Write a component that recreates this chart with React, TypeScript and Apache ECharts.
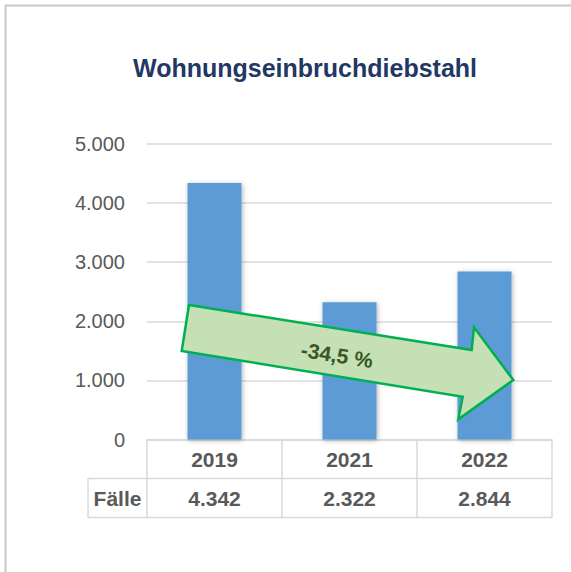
import React, { useEffect, useRef } from "react";
import * as echarts from "echarts";

const title = "Wohnungseinbruchdiebstahl";
const categories = ["2019", "2021", "2022"];
const cases = [4342, 2322, 2844];
const rowLabel = "Fälle";
const changeLabel = "-34,5 %";
const yMin = 0;
const yMax = 5000;
const yInterval = 1000;

const fmt = (v: number) => String(Math.round(v)).replace(/\B(?=(\d{3})+(?!\d))/g, ".");

const GL = 147, GR = 552, GT = 144, GB = 439.5;
const ROW = 39;
const W = 571, H = 572;

export default function App() {
  const ref = useRef<HTMLDivElement>(null);
  useEffect(() => {
    if (!ref.current) return;
    const chart = echarts.init(ref.current, undefined, { renderer: "svg" });
    const font = "'Liberation Sans', Arial, sans-serif";
    const tableLine = { stroke: "#D9D9D9", lineWidth: 1.5 };
    chart.setOption({
      animation: false,
      backgroundColor: "#ffffff",
      textStyle: { fontFamily: font },
      grid: { left: GL, right: W - GR, top: GT, bottom: H - GB },
      xAxis: [
        {
          type: "category",
          data: categories,
          position: "bottom",
          axisLine: { show: true, lineStyle: { color: "#D9D9D9", width: 1.5 } },
          axisTick: { show: true, length: ROW * 2, lineStyle: { color: "#D9D9D9", width: 1.5 } },
          axisLabel: {
            margin: 20,
            verticalAlign: "middle",
            fontSize: 21,
            fontWeight: "bold",
            color: "#595959",
            fontFamily: font,
          },
        },
        {
          type: "category",
          data: cases.map(fmt),
          position: "bottom",
          offset: ROW,
          axisLine: { show: false },
          axisTick: { show: false },
          axisLabel: {
            margin: 20,
            verticalAlign: "middle",
            fontSize: 21,
            fontWeight: "bold",
            color: "#595959",
            fontFamily: font,
          },
        },
      ],
      yAxis: {
        type: "value",
        min: yMin,
        max: yMax,
        interval: yInterval,
        axisLine: { show: false },
        axisTick: { show: false },
        splitLine: { lineStyle: { color: "#D9D9D9", width: 1.5 } },
        axisLabel: {
          margin: 22,
          fontSize: 20,
          color: "#595959",
          fontFamily: font,
          formatter: (v: number) => fmt(v),
        },
      },
      series: [
        {
          type: "bar",
          data: cases,
          barWidth: "40%",
          itemStyle: {
            color: "#5B9BD5",
            shadowBlur: 5,
            shadowColor: "rgba(0,0,0,0.3)",
            shadowOffsetX: 1,
            shadowOffsetY: 1,
          },
          z: 2,
        },
      ],
      graphic: [
        {
          type: "rect",
          shape: { x: 5.5, y: 5.5, width: 700, height: 700 },
          style: { fill: "none", stroke: "#C8C8C8", lineWidth: 2 },
          silent: true,
          z: 0,
        },
        {
          type: "text",
          x: 305,
          y: 68,
          style: {
            text: title,
            fontSize: 25,
            fontWeight: "bold",
            fontFamily: font,
            fill: "#1F3864",
            textAlign: "center",
            textVerticalAlign: "middle",
          },
        },
        {
          type: "line",
          shape: { x1: 88, y1: GB + ROW, x2: GR, y2: GB + ROW },
          style: tableLine,
        },
        {
          type: "line",
          shape: { x1: 88, y1: GB + 2 * ROW, x2: GR, y2: GB + 2 * ROW },
          style: tableLine,
        },
        {
          type: "line",
          shape: { x1: 88, y1: GB + ROW, x2: 88, y2: GB + 2 * ROW },
          style: tableLine,
        },
        {
          type: "text",
          x: (88 + GL) / 2,
          y: GB + ROW * 1.5,
          style: {
            text: rowLabel,
            fontSize: 21,
            fontWeight: "bold",
            fontFamily: font,
            fill: "#595959",
            textAlign: "center",
            textVerticalAlign: "middle",
          },
        },
        {
          type: "polygon",
          z: 10,
          shape: {
            points: [
              [189, 305],
              [471.7, 350],
              [474, 327.3],
              [513.3, 380],
              [458.3, 419.3],
              [462.7, 396.7],
              [181.7, 351],
            ],
          },
          style: { fill: "#C5E0B4", stroke: "#00B050", lineWidth: 2.5, lineJoin: "miter" },
        },
        {
          type: "text",
          z: 11,
          x: 337,
          y: 355,
          rotation: (-9 * Math.PI) / 180,
          style: {
            text: changeLabel,
            fontSize: 21,
            fontWeight: "bold",
            fontFamily: font,
            fill: "#385723",
            textAlign: "center",
            textVerticalAlign: "middle",
          },
        },
      ],
    });
    return () => chart.dispose();
  }, []);
  return (
    <div
      ref={ref}
      style={{ position: "fixed", left: 0, top: 0, width: W, height: H }}
    />
  );
}
